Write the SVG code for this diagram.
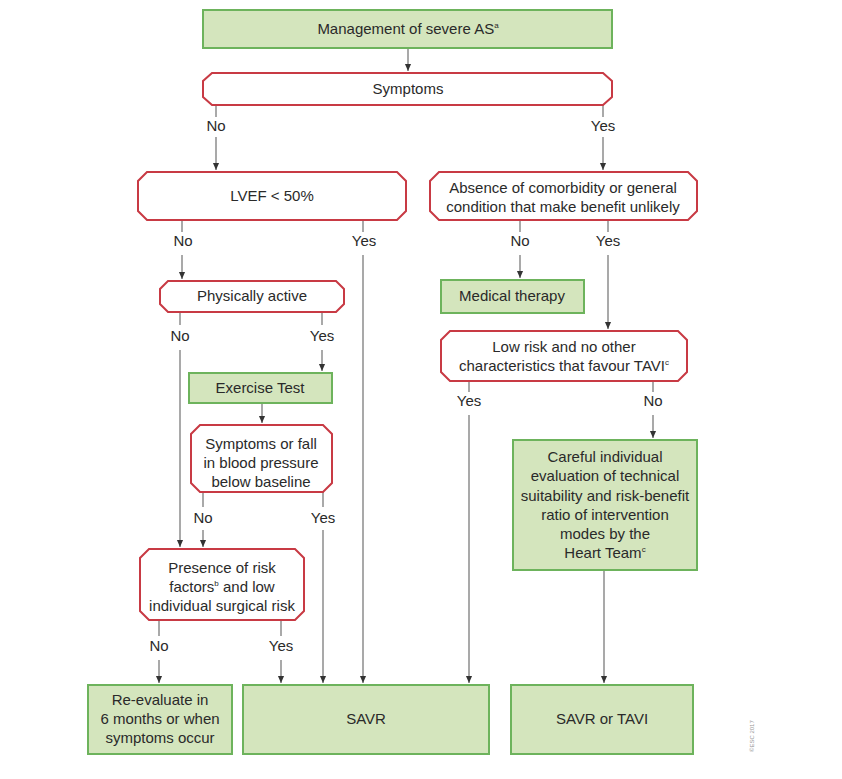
<svg xmlns="http://www.w3.org/2000/svg" width="842" height="779" viewBox="0 0 842 779">
<defs>
<marker id="ah" viewBox="0 0 8 8" refX="8" refY="4" markerWidth="7" markerHeight="8" markerUnits="userSpaceOnUse" orient="auto">
<path d="M0,0.5 L8,4 L0,7.5 z" fill="#333"/>
</marker>
<style>
.g{fill:#d4e5bd;stroke:#6db35c;stroke-width:2}
.r{fill:#fff;stroke:#c83a44;stroke-width:2}
.t{font-family:"Liberation Sans",Arial,sans-serif;font-size:15px;fill:#2a2a2a;text-anchor:middle}
.l{font-family:"Liberation Sans",Arial,sans-serif;font-size:15px;fill:#2a2a2a;text-anchor:middle}
.s{font-size:8px}
.c{stroke:#8c8c8c;stroke-width:1.5;fill:none}
.a{marker-end:url(#ah)}
</style>
</defs>
<rect width="842" height="779" fill="#fff"/>
<g id="connectors">
<line class="c a" x1="408" y1="49" x2="408" y2="71"/>
<line class="c" x1="216" y1="105" x2="216" y2="117"/>
<line class="c a" x1="216" y1="137" x2="216" y2="170"/>
<line class="c" x1="603" y1="105" x2="603" y2="117"/>
<line class="c a" x1="603" y1="137" x2="603" y2="170"/>
<line class="c" x1="182" y1="220" x2="182" y2="232"/>
<line class="c a" x1="182" y1="255" x2="182" y2="279"/>
<line class="c" x1="363" y1="220" x2="363" y2="232"/>
<line class="c a" x1="363" y1="255" x2="363" y2="683"/>
<line class="c" x1="520" y1="220" x2="520" y2="232"/>
<line class="c a" x1="520" y1="255" x2="520" y2="278"/>
<line class="c" x1="608" y1="220" x2="608" y2="232"/>
<line class="c a" x1="608" y1="255" x2="608" y2="329"/>
<line class="c" x1="180" y1="312" x2="180" y2="325"/>
<line class="c a" x1="180" y1="350" x2="180" y2="547"/>
<line class="c" x1="322" y1="312" x2="322" y2="325"/>
<line class="c a" x1="322" y1="350" x2="322" y2="371"/>
<line class="c a" x1="262" y1="404" x2="262" y2="423"/>
<line class="c" x1="469" y1="381" x2="469" y2="392"/>
<line class="c a" x1="469" y1="415" x2="469" y2="683"/>
<line class="c" x1="653" y1="381" x2="653" y2="392"/>
<line class="c a" x1="653" y1="415" x2="653" y2="438"/>
<line class="c" x1="203" y1="492" x2="203" y2="507"/>
<line class="c a" x1="203" y1="530" x2="203" y2="547"/>
<line class="c" x1="323" y1="492" x2="323" y2="507"/>
<line class="c a" x1="323" y1="530" x2="323" y2="683"/>
<line class="c" x1="159" y1="620" x2="159" y2="636"/>
<line class="c a" x1="159" y1="660" x2="159" y2="683"/>
<line class="c" x1="281" y1="620" x2="281" y2="636"/>
<line class="c a" x1="281" y1="660" x2="281" y2="683"/>
<line class="c a" x1="604" y1="571" x2="604" y2="683"/>
</g>
<g id="labels">
<text class="l" x="216" y="131">No</text>
<text class="l" x="603" y="131">Yes</text>
<text class="l" x="183" y="246">No</text>
<text class="l" x="364" y="246">Yes</text>
<text class="l" x="520" y="246">No</text>
<text class="l" x="608" y="246">Yes</text>
<text class="l" x="180" y="341">No</text>
<text class="l" x="322" y="341">Yes</text>
<text class="l" x="469" y="406">Yes</text>
<text class="l" x="653" y="406">No</text>
<text class="l" x="203" y="523">No</text>
<text class="l" x="323" y="523">Yes</text>
<text class="l" x="159" y="651">No</text>
<text class="l" x="281" y="651">Yes</text>
</g>
<g id="n-management">
<rect class="g" x="203" y="10" width="409" height="38"/>
<text class="t" x="408" y="34">Management of severe AS<tspan class="s" dy="-6">a</tspan></text>
</g>
<g id="n-symptoms">
<path class="r" d="M212,73 H603 L612,81 V97 L603,105 H212 L203,97 V81 Z"/>
<text class="t" x="408" y="94">Symptoms</text>
</g>
<g id="n-lvef">
<path class="r" d="M147,172 H397 L406,181 V211 L397,220 H147 L138,211 V181 Z"/>
<text class="t" x="272" y="201">LVEF &lt; 50%</text>
</g>
<g id="n-absence">
<path class="r" d="M439,172 H688 L697,181 V211 L688,220 H439 L430,211 V181 Z"/>
<text class="t" x="563" y="193">Absence of comorbidity or general</text>
<text class="t" x="563" y="212">condition that make benefit unlikely</text>
</g>
<g id="n-physically">
<path class="r" d="M168,281 H336 L344,289 V304 L336,312 H168 L160,304 V289 Z"/>
<text class="t" x="252" y="301">Physically active</text>
</g>
<g id="n-medical">
<rect class="g" x="441" y="280" width="143" height="33"/>
<text class="t" x="512" y="301">Medical therapy</text>
</g>
<g id="n-lowrisk">
<path class="r" d="M450,331 H678 L687,340 V372 L678,381 H450 L441,372 V340 Z"/>
<text class="t" x="564" y="352">Low risk and no other</text>
<text class="t" x="564" y="371">characteristics that favour TAVI<tspan class="s" dy="-6">c</tspan></text>
</g>
<g id="n-exercise">
<rect class="g" x="189" y="373" width="143" height="30"/>
<text class="t" x="260" y="393">Exercise Test</text>
</g>
<g id="n-sympfall">
<path class="r" d="M200,425 H323 L332,434 V483 L323,492 H200 L191,483 V434 Z"/>
<text class="t" x="261" y="449">Symptoms or fall</text>
<text class="t" x="261" y="468">in blood pressure</text>
<text class="t" x="261" y="487">below baseline</text>
</g>
<g id="n-careful">
<rect class="g" x="513" y="440" width="184" height="130"/>
<text class="t" x="605" y="462">Careful individual</text>
<text class="t" x="605" y="481">evaluation of technical</text>
<text class="t" x="605" y="501">suitability and risk-benefit</text>
<text class="t" x="605" y="520">ratio of intervention</text>
<text class="t" x="605" y="539">modes by the</text>
<text class="t" x="605" y="558">Heart Team<tspan class="s" dy="-6">c</tspan></text>
</g>
<g id="n-presence">
<path class="r" d="M149,549 H295 L304,558 V611 L295,620 H149 L140,611 V558 Z"/>
<text class="t" x="222" y="573">Presence of risk</text>
<text class="t" x="222" y="592">factors<tspan class="s" dy="-6">b</tspan><tspan dy="6"> and low</tspan></text>
<text class="t" x="222" y="611">individual surgical risk</text>
</g>
<g id="n-reevaluate">
<rect class="g" x="88" y="685" width="144" height="69"/>
<text class="t" x="160" y="705">Re-evaluate in</text>
<text class="t" x="160" y="724">6 months or when</text>
<text class="t" x="160" y="743">symptoms occur</text>
</g>
<g id="n-savr">
<rect class="g" x="243" y="685" width="246" height="69"/>
<text class="t" x="366" y="724">SAVR</text>
</g>
<g id="n-savrtavi">
<rect class="g" x="511" y="685" width="182" height="69"/>
<text class="t" x="602" y="724">SAVR or TAVI</text>
</g>
<text x="754" y="752" transform="rotate(-90 754 752)" font-family="Liberation Sans, Arial, sans-serif" font-size="6" fill="#999">©ESC 2017</text>
</svg>
